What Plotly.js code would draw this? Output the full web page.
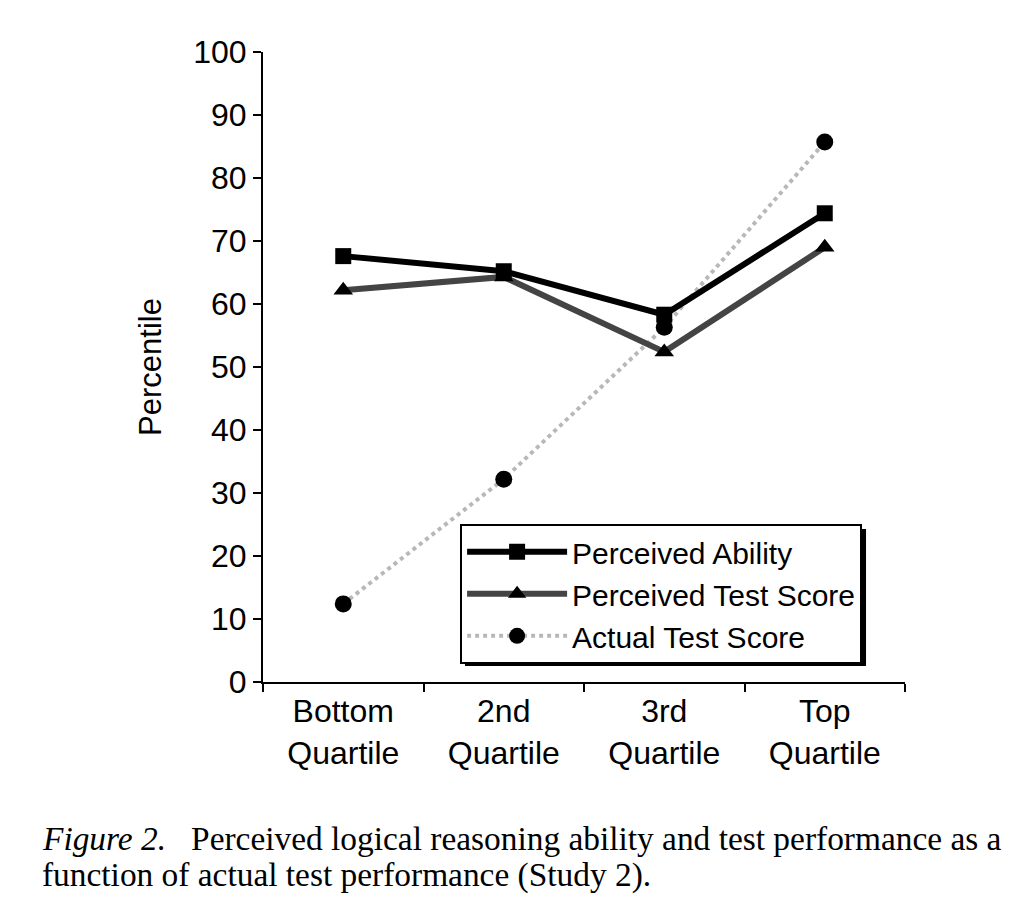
<!DOCTYPE html>
<html>
<head>
<meta charset="utf-8">
<script src="https://cdn.plot.ly/plotly-3.0.1.min.js"></script>
<style>html,body{margin:0;padding:0;background:#fff;}#chart{width:1030px;height:920px;}</style>
</head>
<body>
<div id="chart"></div>
<script>
const categories = ["Bottom<br>Quartile", "2nd<br>Quartile", "3rd<br>Quartile", "Top<br>Quartile"];
const perceivedAbility = [67.6, 65.2, 58.3, 74.4];
const perceivedTestScore = [62.2, 64.3, 52.4, 69.0];
const actualTestScore = [12.4, 32.2, 56.3, 85.7];
const yTicks = [0, 10, 20, 30, 40, 50, 60, 70, 80, 90, 100];

const font = "Liberation Sans, Arial, sans-serif";
const serif = "Liberation Serif, Times New Roman, serif";

const traces = [
  {x: categories, y: actualTestScore, name: "Actual Test Score", type: "scatter", mode: "lines+markers",
   line: {color: "#b8b8b8", width: 4, dash: "dot"}, marker: {symbol: "circle", size: 17, color: "#000"}},
  {x: categories, y: perceivedTestScore, name: "Perceived Test Score", type: "scatter", mode: "lines+markers",
   line: {color: "#444", width: 6}, marker: {symbol: "triangle-up", size: 17, color: "#000"}},
  {x: categories, y: perceivedAbility, name: "Perceived Ability", type: "scatter", mode: "lines+markers",
   line: {color: "#000", width: 6}, marker: {symbol: "square", size: 16, color: "#000"}}
];

const layout = {
  width: 1030, height: 920,
  margin: {l: 263, r: 125, t: 52, b: 238},
  paper_bgcolor: "#fff", plot_bgcolor: "#fff",
  font: {family: font, size: 32, color: "#000"},
  showlegend: true,
  legend: {x: 0.307, y: 0.251, xanchor: "left", yanchor: "top", traceorder: "reversed",
           bgcolor: "#fff", bordercolor: "#000", borderwidth: 2,
           font: {family: font, size: 30, color: "#000"}, itemwidth: 100, tracegroupgap: 0},
  xaxis: {type: "category", range: [-0.5, 3.5], tickson: "boundaries", ticks: "outside", ticklen: 8,
          tickwidth: 2, tickcolor: "#000", showline: true, linecolor: "#000", linewidth: 2,
          showgrid: false, zeroline: false, tickfont: {family: font, size: 32}},
  yaxis: {range: [0, 100], tickvals: yTicks, ticks: "outside", ticklen: 8, tickwidth: 2, tickcolor: "#000",
          showline: true, linecolor: "#000", linewidth: 2, showgrid: false, zeroline: false,
          tickfont: {family: font, size: 32},
          title: {text: "Percentile", font: {family: font, size: 31}, standoff: 22}},
  shapes: [
    {type: "rect", xref: "paper", yref: "paper", x0: 0.3146, x1: 0.9393, y0: 0.0254, y1: 0.2429,
     fillcolor: "#000", line: {width: 0}, layer: "above"}
  ],
  annotations: [
    {xref: "paper", yref: "paper", x: -0.347, y: -0.248, xanchor: "left", yanchor: "middle", showarrow: false, align: "left",
     text: "<i>Figure 2.</i>   Perceived logical reasoning ability and test performance as a",
     font: {family: serif, size: 33.4, color: "#000"}},
    {xref: "paper", yref: "paper", x: -0.347, y: -0.307, xanchor: "left", yanchor: "middle", showarrow: false, align: "left",
     text: "function of actual test performance (Study 2).",
     font: {family: serif, size: 33.4, color: "#000"}}
  ]
};

Plotly.newPlot("chart", traces, layout, {displayModeBar: false, staticPlot: true});
</script>
</body>
</html>
